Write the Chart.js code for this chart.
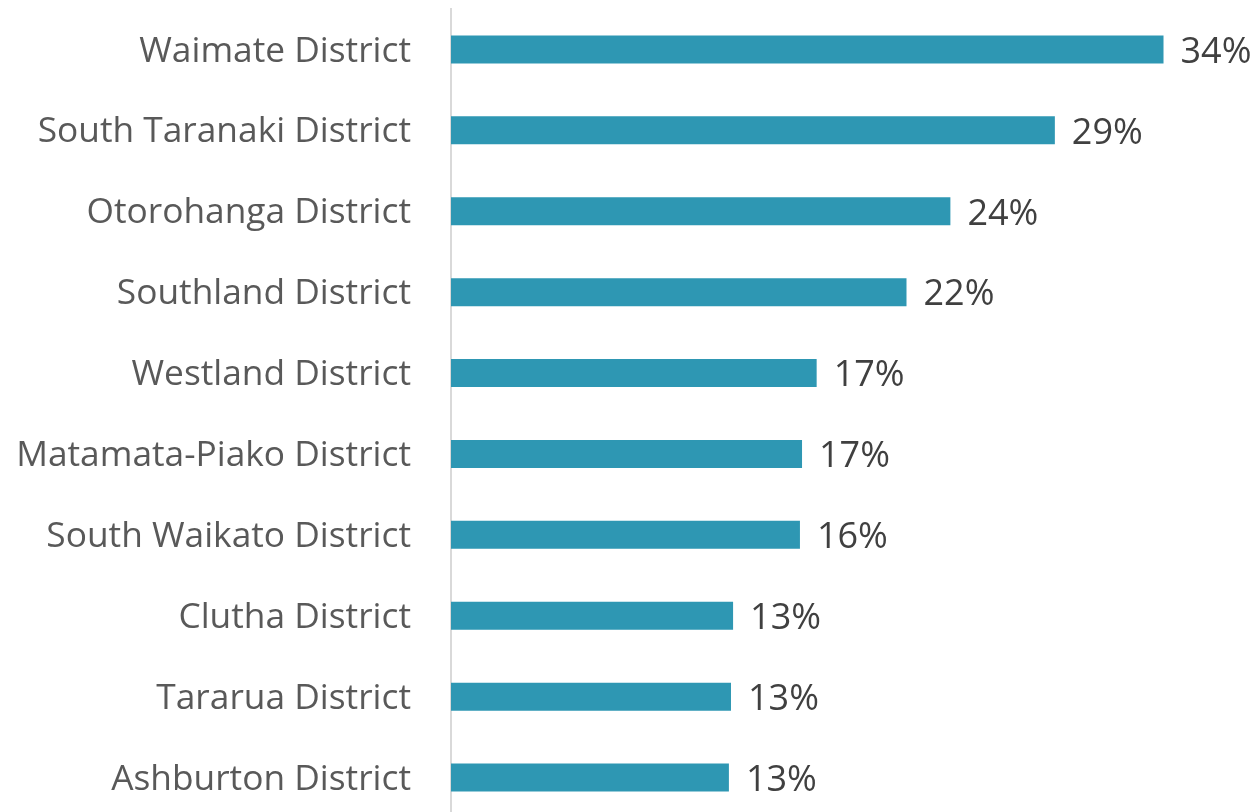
<!DOCTYPE html>
<html>
<head>
<meta charset="utf-8">
<script src="https://cdn.jsdelivr.net/npm/chart.js@4"></script>
<style>
  html, body { margin: 0; padding: 0; background: #fff; overflow: hidden; }
  #wrap { width: 1253px; height: 818px; position: relative; }
</style>
</head>
<body>
<div id="wrap"><canvas id="chartDistricts"></canvas></div>
<script>
// категории и значения (оценка по картинке)
const districts = [
    "Waimate District", "South Taranaki District", "Otorohanga District", "Southland District",
    "Westland District", "Matamata-Piako District", "South Waikato District", "Clutha District",
    "Tararua District", "Ashburton District"
];
const shares = [34.1, 28.9, 23.9, 21.8, 17.5, 16.8, 16.7, 13.5, 13.4, 13.3];
const shareLabels = ["34%", "29%", "24%", "22%", "17%", "17%", "16%", "13%", "13%", "13%"];

const FONT = "'Open Sans', 'Noto Sans', sans-serif";

// подписи значений справа от столбцов
const valueLabels = {
    id: 'valueLabels',
    afterDatasetsDraw(chart) {
        const ctx = chart.ctx;
        const meta = chart.getDatasetMeta(0);
        ctx.save();
        ctx.font = "36px " + FONT;
        ctx.fillStyle = '#404040';
        ctx.textAlign = 'left';
        ctx.textBaseline = 'middle';
        meta.data.forEach((bar, i) => {
            ctx.fillText(shareLabels[i], bar.x + 17, bar.y + 3);
        });
        ctx.restore();
    }
};

let ctx = document.getElementById('chartDistricts').getContext('2d');
new Chart(ctx, {
    type: 'bar',
    data: {
        labels: districts,
        datasets: [{ data: shares, backgroundColor: '#2E97B3', categoryPercentage: 1, barPercentage: 0.346 }]
    },
    options: {
        indexAxis: 'y',
        responsive: true,
        maintainAspectRatio: false,
        animation: false,
        layout: { padding: { top: 9, right: 8, left: 0, bottom: 0 } },
        plugins: { legend: { display: false }, tooltip: { enabled: false } },
        scales: {
            x: { display: false, min: 0, max: 38 },
            y: {
                grid: { display: false, drawTicks: false },
                border: { display: true, color: '#d9d9d9', width: 2 },
                ticks: { color: '#595959', padding: 40, labelOffset: 2, font: { family: FONT, size: 35.3 } },
                afterFit(scale) {
                    scale.width = 451;
                    // убираем лишние отступы сверху/снизу от padding подписей
                    scale.paddingTop = 0;
                    scale.paddingBottom = 0;
                }
            }
        }
    },
    plugins: [valueLabels]
});
</script>
</body>
</html>
